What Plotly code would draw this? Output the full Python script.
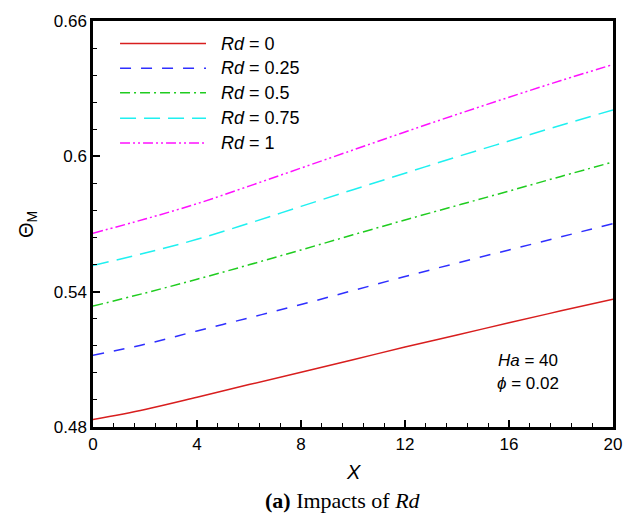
import plotly.graph_objects as go

# ---- data ----
x_vals = [0, 2, 4, 6, 8, 10, 12, 14, 16, 18, 20]
rd_0 = [0.4833, 0.4878, 0.4932, 0.4988, 0.5043, 0.5098, 0.5155, 0.5208, 0.5262, 0.5315, 0.5367]
rd_025 = [0.5118, 0.5167, 0.5226, 0.5284, 0.5343, 0.5405, 0.5467, 0.5527, 0.5585, 0.5643, 0.5702]
rd_05 = [0.5336, 0.5394, 0.5455, 0.5519, 0.5585, 0.5652, 0.5718, 0.5782, 0.5846, 0.5911, 0.5975]
rd_075 = [0.5516, 0.5571, 0.5632, 0.5703, 0.5778, 0.5852, 0.5925, 0.5998, 0.6068, 0.6138, 0.6206]
rd_1 = [0.5659, 0.5722, 0.5790, 0.5868, 0.5948, 0.6028, 0.6108, 0.6186, 0.6262, 0.6336, 0.6407]

series_names = ["<i>Rd</i> = 0", "<i>Rd</i> = 0.25", "<i>Rd</i> = 0.5", "<i>Rd</i> = 0.75", "<i>Rd</i> = 1"]
series_data = [rd_0, rd_025, rd_05, rd_075, rd_1]
series_colors = ["#d81e1e", "#2f2fff", "#1fcc1f", "#1ff0f0", "#ff10ff"]
series_dash = ["solid", "11px,10px", "10px,4px,2px,4px", "16px,8px", "10px,3px,2px,3px,2px,3px"]

x_ticks = [0, 4, 8, 12, 16, 20]
x_ticktext = ["0", "4", "8", "12", "16", "20"]
y_ticks = [0.48, 0.54, 0.60, 0.66]
y_ticktext = ["0.48", "0.54", "0.6", "0.66"]

FONT = "Liberation Sans, Arial, sans-serif"
SERIF = "Liberation Serif, Times New Roman, serif"

fig = go.Figure()
for name, ys, col, dash in zip(series_names, series_data, series_colors, series_dash):
    fig.add_trace(go.Scatter(x=x_vals, y=ys, mode="lines", name=name,
                             line=dict(color=col, width=1.5, dash=dash, shape="spline"),
                             showlegend=False))

# custom legend (long line samples, as in the reference)
leg_y = [0.9443, 0.8838, 0.8232, 0.7603, 0.6998]
for name, col, dash, ly in zip(series_names, series_colors, series_dash, leg_y):
    fig.add_shape(type="line", xref="paper", yref="paper", x0=0.052, x1=0.2173, y0=ly, y1=ly,
                  line=dict(color=col, width=1.5, dash=dash))
    fig.add_annotation(xref="paper", yref="paper", x=0.2423, y=ly, text=name, showarrow=False,
                       xanchor="left", yanchor="middle", font=dict(family=FONT, size=18, color="black"))

axis_common = dict(showline=True, linecolor="black", linewidth=2.5, mirror=True,
                   ticks="inside", ticklen=7, tickwidth=1.5, tickcolor="black",
                   showgrid=False, zeroline=False,
                   tickfont=dict(family=FONT, size=17, color="black"))

fig.update_xaxes(range=[0, 20], tickvals=x_ticks, ticktext=x_ticktext,
                 minor=dict(dtick=0.8, ticks="inside", ticklen=4, tickwidth=1, tickcolor="black"),
                 **axis_common)
fig.update_yaxes(range=[0.48, 0.66], tickvals=y_ticks, ticktext=y_ticktext,
                 minor=dict(dtick=0.012, ticks="inside", ticklen=4, tickwidth=1, tickcolor="black"),
                 **axis_common)

# axis titles and caption
fig.add_annotation(xref="paper", yref="paper", x=0.5, y=-0.1114, text="<i>X</i>", showarrow=False,
                   xanchor="center", yanchor="middle", font=dict(family=FONT, size=20, color="black"))
fig.add_annotation(xref="paper", yref="paper", x=-0.127, y=0.5, text="Θ<sub>M</sub>", showarrow=False,
                   textangle=-90, xanchor="center", yanchor="middle",
                   font=dict(family=FONT, size=20, color="black"))
fig.add_annotation(xref="paper", yref="paper", x=0.481, y=-0.1816,
                   text="<b>(a)</b> Impacts of <i>Rd</i>", showarrow=False,
                   xanchor="center", yanchor="middle", font=dict(family=SERIF, size=22, color="black"))

# parameter note
fig.add_annotation(xref="paper", yref="paper", x=0.8365, y=0.1646, text="<i>Ha</i> = 40", showarrow=False,
                   xanchor="center", yanchor="middle", font=dict(family=FONT, size=17, color="black"))
fig.add_annotation(xref="paper", yref="paper", x=0.8365, y=0.1065, text="<i>ϕ</i> = 0.02", showarrow=False,
                   xanchor="center", yanchor="middle", font=dict(family=FONT, size=17, color="black"))

fig.update_layout(width=635, height=515, margin=dict(l=93, r=22, t=14, b=88),
                  plot_bgcolor="white", paper_bgcolor="white", showlegend=False)

fig.write_html("out.html")
